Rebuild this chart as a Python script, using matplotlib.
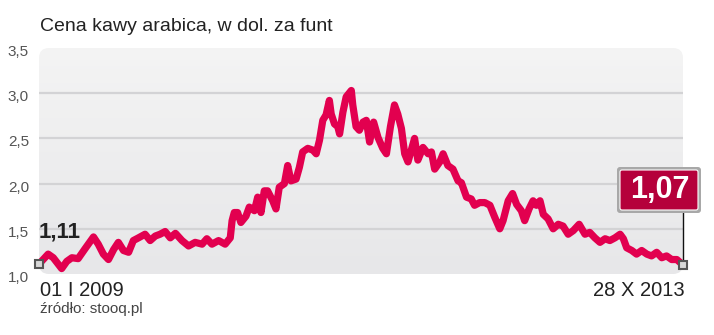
import matplotlib
matplotlib.use('Agg')
import matplotlib.pyplot as plt
import matplotlib.transforms as mtransforms
from matplotlib.patches import FancyBboxPatch
import numpy as np
import pandas as pd

plt.rcParams['font.family'] = ['Liberation Sans', 'DejaVu Sans']

# dane: dni od 01.01.2009 i cena kawy arabica (USD za funt)
start_date = '2009-01-01'
days = [0, 25, 39, 62, 76, 90, 107, 126, 149, 162, 176, 190, 204, 217, 231, 245,
        258, 272, 290, 304, 318, 331, 345, 359, 373, 391, 409, 427, 446, 459, 473,
        491, 509, 523, 528, 534, 543, 552, 566, 575, 589, 598, 607, 616, 625, 639,
        648, 657, 671, 680, 689, 703, 712, 721, 735, 749, 758, 767, 776, 785, 794,
        799, 808, 817, 822, 831, 840, 854, 858, 867, 876, 886, 895, 904, 915, 927,
        940, 950, 961, 972, 981, 991, 1000, 1009, 1018, 1027, 1036, 1050, 1064,
        1073, 1082, 1096, 1105, 1118, 1132, 1146, 1155, 1169, 1182, 1191, 1205,
        1219, 1233, 1246, 1260, 1269, 1283, 1295, 1306, 1319, 1328, 1340, 1351,
        1360, 1370, 1379, 1392, 1406, 1420, 1433, 1447, 1461, 1477, 1493, 1506,
        1520, 1534, 1548, 1561, 1575, 1589, 1598, 1607, 1621, 1634, 1648, 1662,
        1675, 1689, 1703, 1716, 1730, 1744, 1761]
price = [1.11, 1.22, 1.18, 1.06, 1.14, 1.18, 1.17, 1.28, 1.41, 1.33, 1.22, 1.16,
         1.27, 1.35, 1.26, 1.24, 1.37, 1.40, 1.44, 1.37, 1.42, 1.44, 1.47, 1.40,
         1.45, 1.37, 1.31, 1.35, 1.33, 1.39, 1.33, 1.37, 1.33, 1.40, 1.59, 1.68,
         1.68, 1.57, 1.64, 1.74, 1.70, 1.85, 1.68, 1.92, 1.92, 1.81, 1.72, 1.96,
         2.00, 2.20, 2.03, 2.05, 2.18, 2.35, 2.39, 2.37, 2.33, 2.48, 2.70, 2.76,
         2.92, 2.77, 2.66, 2.63, 2.55, 2.79, 2.96, 3.03, 2.87, 2.63, 2.59, 2.68,
         2.70, 2.46, 2.68, 2.51, 2.39, 2.33, 2.63, 2.87, 2.77, 2.61, 2.33, 2.24,
         2.37, 2.50, 2.26, 2.40, 2.33, 2.35, 2.16, 2.24, 2.33, 2.20, 2.16, 2.03,
         2.01, 1.85, 1.83, 1.76, 1.79, 1.79, 1.76, 1.63, 1.50, 1.59, 1.81, 1.89,
         1.77, 1.70, 1.59, 1.72, 1.81, 1.76, 1.81, 1.66, 1.61, 1.50, 1.55, 1.53,
         1.44, 1.48, 1.55, 1.44, 1.46, 1.40, 1.35, 1.39, 1.37, 1.40, 1.44, 1.39,
         1.29, 1.26, 1.22, 1.26, 1.22, 1.20, 1.24, 1.18, 1.20, 1.16, 1.16, 1.10]
y_ticks = [1.0, 1.5, 2.0, 2.5, 3.0, 3.5]
start_label = '1,11'
end_label = '1,07'
date_labels = ['01 I 2009', '28 X 2013']

dates = pd.Timestamp(start_date) + pd.to_timedelta(days, unit='D')

fig = plt.figure(figsize=(7.14, 3.35), dpi=100)
ax = fig.add_axes([39 / 714, 1 - 274 / 335, 644 / 714, 226 / 335])
ax.set_xlim(dates[0], dates[-1])
ax.set_ylim(y_ticks[0], y_ticks[-1])
ax.axis('off')

# tlo z gradientem, zaokraglone rogi
panel = FancyBboxPatch((0.39, 0.61), 6.44, 2.26, boxstyle='round,pad=0,rounding_size=0.1',
                       transform=fig.dpi_scale_trans, fc='none', ec='none')
fig.add_artist(panel)
grad = np.linspace(0, 1, 256).reshape(-1, 1)
cmap = matplotlib.colors.LinearSegmentedColormap.from_list('bg', ['#f4f4f4', '#e7e7e9'])
im = ax.imshow(grad, extent=[0, 1, 0, 1], transform=ax.transAxes, aspect='auto',
               cmap=cmap, zorder=0)
im.set_clip_path(panel)

for t in y_ticks[1:-1]:
    ax.axhline(t, color='#d3d3d5', lw=1.6, zorder=1)

off = mtransforms.offset_copy(ax.get_yaxis_transform(), fig=fig, x=-10, y=-4, units='dots')
for t in y_ticks:
    ax.text(0, t, f'{t:.1f}'.replace('.', ','), transform=off, ha='right', va='center',
            fontsize=11, color='#555555')

ax.plot(dates, price, color='#e2004f', lw=5.2, solid_joinstyle='round',
        solid_capstyle='round', zorder=3, clip_on=False)

# znaczniki na koncach
ax.plot([dates[-1], dates[-1]], [1.70, price[-1]], color='#111111', lw=1, zorder=4, clip_on=False)
ax.plot([dates[0], dates[-1]], [price[0], price[-1]], ls='none', marker='s', ms=6,
        mfc='#d8d8d8', mec='#555555', mew=1.5, zorder=5, clip_on=False)

ax.text(dates[0], 1.40, start_label, ha='left', va='baseline', fontsize=16,
        fontweight='bold', color='#222222', zorder=6)

# etykieta ostatniej wartosci
shadow = FancyBboxPatch((6.17, 1.22), 0.84, 0.46, boxstyle='round,pad=0,rounding_size=0.03',
                        transform=fig.dpi_scale_trans, fc='#a8a8a8', ec='none')
box = FancyBboxPatch((6.20, 1.25), 0.78, 0.40, boxstyle='round,pad=0,rounding_size=0.02',
                     transform=fig.dpi_scale_trans, fc='#b5003b', ec='white', lw=0.8)
fig.add_artist(shadow)
fig.add_artist(box)
fig.text(6.60 / 7.14, 1.45 / 3.35, end_label, ha='center', va='center', fontsize=22,
         fontweight='bold', color='white')

fig.text(40 / 714, 1 - 31 / 335, 'Cena kawy arabica, w dol. za funt', ha='left',
         va='baseline', fontsize=14, color='#222222')
fig.text(40 / 714, 1 - 296 / 335, date_labels[0], ha='left', va='baseline',
         fontsize=14.5, color='#222222')
fig.text(685 / 714, 1 - 296 / 335, date_labels[1], ha='right', va='baseline',
         fontsize=14.5, color='#222222')
fig.text(40 / 714, 1 - 313 / 335, 'źródło: stooq.pl', ha='left', va='baseline',
         fontsize=11, color='#444444')

fig.savefig('out.png', dpi=100)
